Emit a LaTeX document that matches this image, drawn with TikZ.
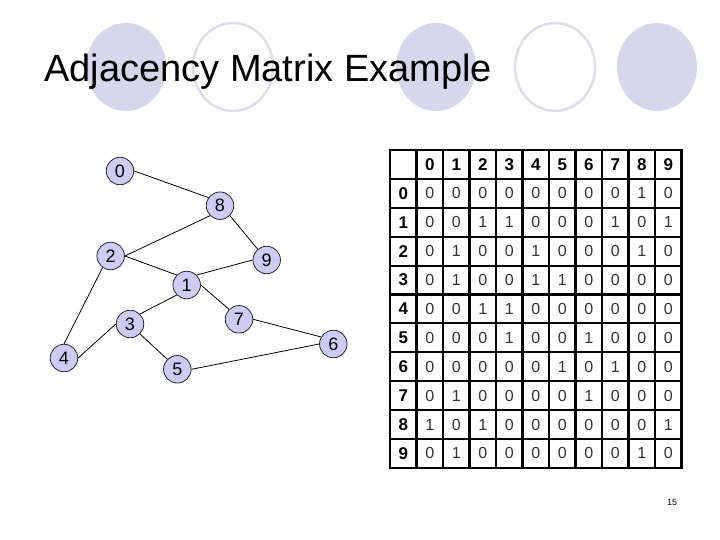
\documentclass[tikz,border=0pt]{standalone}
\usepackage{fontspec}
\setmainfont{Liberation Sans}
\definecolor{lav}{RGB}{214,214,236}
\definecolor{ringc}{RGB}{222,222,234}
\definecolor{vfill}{RGB}{204,204,246}
\begin{document}
\begin{tikzpicture}[x=1pt,y=-1pt,
  decofill/.style={fill=lav, draw=none},
  decoring/.style={draw=ringc, line width=2.5pt, fill=white},
  vtx/.style={circle, draw=black!85, fill=vfill, line width=0.8pt, minimum size=27.5pt, inner sep=0pt, font=\fontsize{18}{18}\selectfont},
  edge/.style={draw=black, line width=0.8pt},
  hdr/.style={font=\bfseries\fontsize{17}{17}\selectfont},
  cell/.style={text=black!80, font=\fontsize{16}{16}\selectfont},
  grid/.style={line width=2.1pt},
  frame/.style={line width=2.8pt},
  ]
\useasboundingbox (0,0) rectangle (720,540);
% decorative circles
\fill[decofill] (126,67) ellipse[x radius=40pt, y radius=44pt];
\draw[decoring] (233,67) ellipse[x radius=40pt, y radius=44pt];
\fill[decofill] (436,67) ellipse[x radius=40pt, y radius=44pt];
\draw[decoring] (555,67) ellipse[x radius=40pt, y radius=44pt];
\fill[decofill] (657,67) ellipse[x radius=40pt, y radius=44pt];
\node[anchor=base west, font=\fontsize{38}{38}\selectfont, inner sep=0pt] (title) at (44,82) {Adjacency Matrix Example};
% graph
\node[vtx] (n0) at (120,171) {0};
\node[vtx] (n8) at (220,205.7) {8};
\node[vtx] (n2) at (110.7,256) {2};
\node[vtx] (n9) at (266.7,260) {9};
\node[vtx] (n1) at (186.7,285) {1};
\node[vtx] (n7) at (239,319.3) {7};
\node[vtx] (n3) at (130,324) {3};
\node[vtx] (n4) at (64,358) {4};
\node[vtx] (n6) at (333.3,344) {6};
\node[vtx] (n5) at (177.3,369.3) {5};
\draw[edge] (n0.east) -- (n8.145);
\draw[edge] (n8.225) -- (n2.east);
\draw[edge] (n8.-45) -- (n9.130);
\draw[edge] (n2.east) -- (n1.135);
\draw[edge] (n9.west) -- (n1.45);
\draw[edge] (n1.225) -- (n3.45);
\draw[edge] (n1.east) -- (n7.135);
\draw[edge] (n7.east) -- (n6.150);
\draw[edge] (n5.east) -- (n6.west);
\draw[edge] (n3.-45) -- (n5.135);
\draw[edge] (n3.west) -- (n4.east);
\draw[edge] (n2.235) -- (n4.north);
% matrix grid
\foreach \i in {1,...,10} \draw[grid] ({390+26.5*\i},150) -- ({390+26.5*\i},467.9);
\foreach \i in {1,...,10} \draw[grid] (390,{150+28.9*\i}) -- (681.5,{150+28.9*\i});
\draw[frame] (390,150) rectangle (681.5,467.9);
\foreach \j in {0,...,9} \node[hdr] (h\j) at ({390+26.5*(\j+1)+13.25},164.45) {\j};
\foreach \i in {0,...,9} \node[hdr] (r\i) at (403.25,{150+28.9*(\i+1)+14.45}) {\i};
\foreach \row [count=\i from 0] in {
  {0,0,0,0,0,0,0,0,1,0},
  {0,0,1,1,0,0,0,1,0,1},
  {0,1,0,0,1,0,0,0,1,0},
  {0,1,0,0,1,1,0,0,0,0},
  {0,0,1,1,0,0,0,0,0,0},
  {0,0,0,1,0,0,1,0,0,0},
  {0,0,0,0,0,1,0,1,0,0},
  {0,1,0,0,0,0,1,0,0,0},
  {1,0,1,0,0,0,0,0,0,1},
  {0,1,0,0,0,0,0,0,1,0}} {
  \foreach \v [count=\j from 0] in \row {
    \node[cell] (m-\i-\j) at ({390+26.5*(\j+1)+13.25},{150+28.9*(\i+1)+14.45}) {\v};
  }
}
\node[font=\fontsize{9}{9}\selectfont] (pg) at (672,502) {15};
\end{tikzpicture}
\end{document}
